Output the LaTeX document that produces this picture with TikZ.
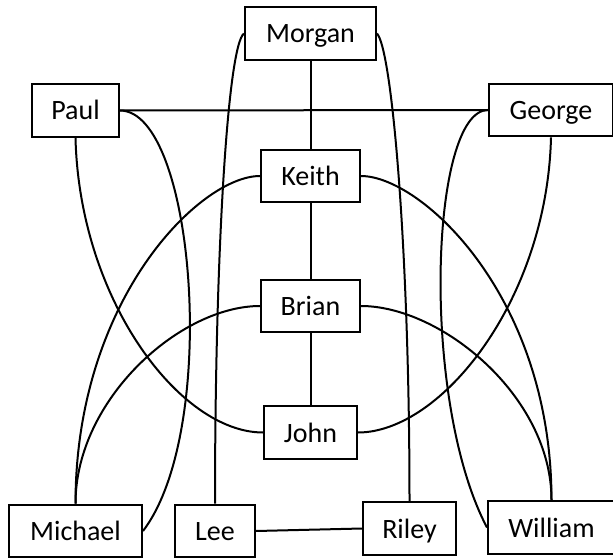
\documentclass[tikz,border=0pt]{standalone}
\usepackage{fontspec}
\setmainfont{Carlito}
\begin{document}
\begin{tikzpicture}[x=1pt,y=-1pt,
  box/.style={draw, line width=2.4pt, minimum height=52.5pt, inner sep=0pt,
    text height=19pt, text depth=0pt, font=\fontsize{28}{30}\selectfont},
  link/.style={line width=2pt}]
\useasboundingbox (0,0) rectangle (613,559);
\node[box, minimum width=130.6pt] (morgan) at (310.5,33.5) {Morgan};
\node[box, minimum width=86.6pt] (paul) at (75.5,110.5) {Paul};
\node[box, minimum width=123.6pt] (george) at (551,110) {George};
\node[box, minimum width=98.6pt] (keith) at (310.5,176) {Keith};
\node[box, minimum width=98.6pt] (brian) at (310.5,306) {Brian};
\node[box, minimum width=92.6pt] (john) at (310.5,432.5) {John};
\node[box, minimum width=132.6pt] (michael) at (75.5,531) {Michael};
\node[box, minimum width=79.6pt] (lee) at (215,531) {Lee};
\node[box, minimum width=92.6pt] (riley) at (409.5,528.5) {Riley};
\node[box, minimum width=126.6pt] (william) at (551.5,527.5) {William};
% straight links
\draw[link] (morgan.south) -- (keith.north);
\draw[link] (keith.south) -- (brian.north);
\draw[link] (brian.south) -- (john.north);
\draw[link] (paul.east) -- (george.west);
\draw[link] (lee.east) -- (riley.west);
% curved links
\draw[link] (paul.east) .. controls +(75,0) and +(77,-101) .. (michael.east);
\draw[link] (george.west) .. controls +(-58,0) and +(-67,-127) .. (william.west);
\draw[link] (paul.south) .. controls +(4,162) and +(-83,0) .. (john.west);
\draw[link] (george.south) .. controls +(-4,163) and +(83,0) .. (john.east);
\draw[link] (morgan.west) .. controls +(-16,11.5) and +(0,-254) .. (lee.north);
\draw[link] (morgan.east) .. controls +(15,16.5) and +(0,-251) .. (riley.north);
\draw[link] (keith.west) .. controls +(-60,0) and +(0,-204) .. (michael.north);
\draw[link] (keith.east) .. controls +(60,0) and +(0,-204) .. (william.north);
\draw[link] (brian.west) .. controls +(-80,0) and +(0,-104) .. (michael.north);
\draw[link] (brian.east) .. controls +(80,0) and +(0,-104) .. (william.north);
\end{tikzpicture}
\end{document}
